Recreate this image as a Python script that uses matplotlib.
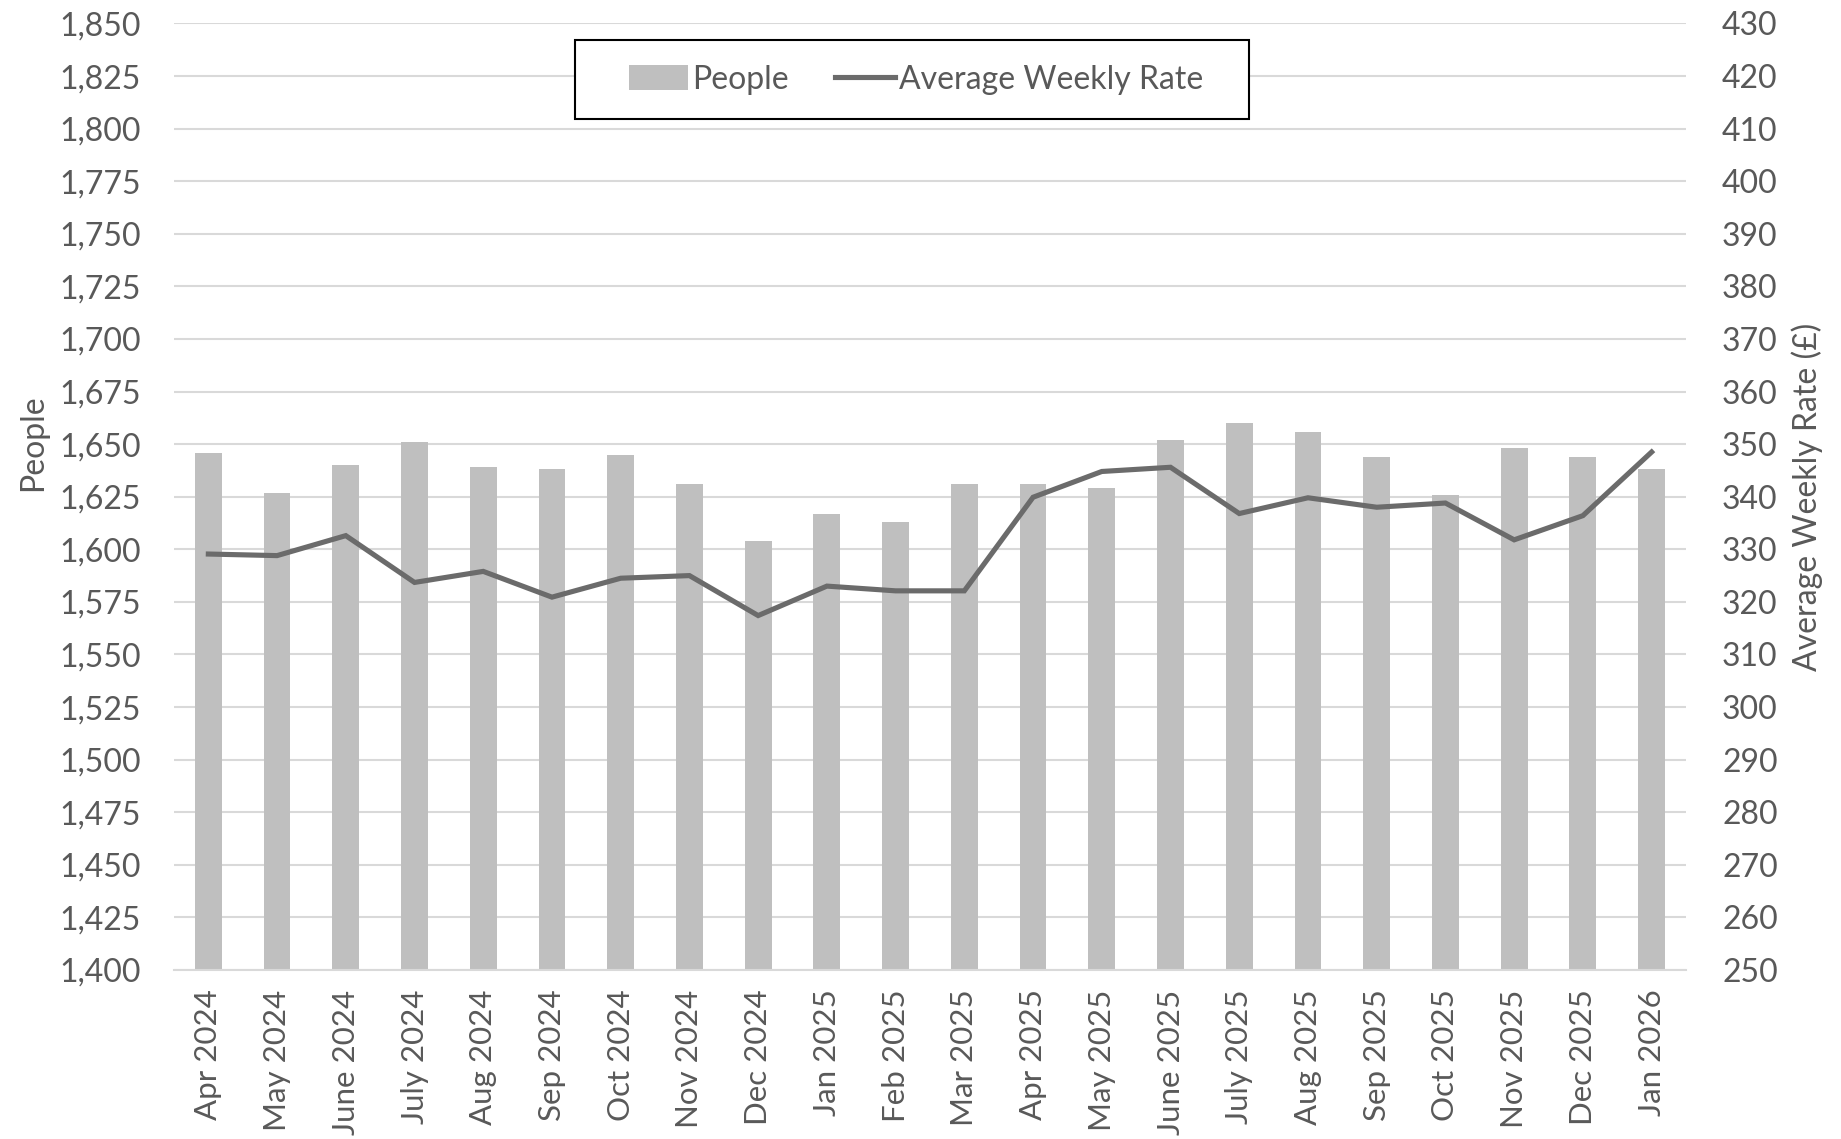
import matplotlib
matplotlib.use("Agg")
import matplotlib.pyplot as plt
from matplotlib.ticker import FuncFormatter, MultipleLocator
from matplotlib.patches import Rectangle

plt.rcParams['font.family'] = ['Lato', 'DejaVu Sans']

months = ["Apr 2024", "May 2024", "June 2024", "July 2024", "Aug 2024", "Sep 2024",
          "Oct 2024", "Nov 2024", "Dec 2024", "Jan 2025", "Feb 2025", "Mar 2025",
          "Apr 2025", "May 2025", "June 2025", "July 2025", "Aug 2025", "Sep 2025",
          "Oct 2025", "Nov 2025", "Dec 2025", "Jan 2026"]
people = [1646, 1627, 1640, 1651, 1639, 1638, 1645, 1631, 1604, 1617, 1613, 1631,
          1631, 1629, 1652, 1660, 1656, 1644, 1626, 1648, 1644, 1638]
rate = [329.1, 328.8, 332.6, 323.7, 325.8, 320.9, 324.5, 325.0, 317.4, 323.0, 322.1, 322.1,
        339.9, 344.8, 345.6, 336.8, 339.8, 338.0, 338.8, 331.8, 336.4, 348.5]

TEXT = '#595959'
GRID = '#D9D9D9'
BAR = '#BFBFBF'
LINE = '#6B6B6B'
FS = 23

fig = plt.figure(figsize=(18.41, 11.39), dpi=100)
ax = fig.add_axes([0.0945, 0.1484, 0.8213, 0.831])
x = list(range(len(months)))
bars = ax.bar(x, people, width=0.39, color=BAR, zorder=2, label='People')
ax.set_ylim(1400, 1850)
ax.set_xlim(-0.5, len(months) - 0.5)
ax.yaxis.set_major_locator(MultipleLocator(25))
ax.yaxis.set_major_formatter(FuncFormatter(lambda v, p: f"{int(v):,}"))
ax.grid(axis='y', color=GRID, lw=1.5, zorder=0)
ax.set_axisbelow(True)
for s in ['top', 'right', 'left']:
    ax.spines[s].set_visible(False)
ax.spines['bottom'].set_color(GRID)
ax.spines['bottom'].set_linewidth(1.5)
ax.set_xticks(x)
ax.set_xticklabels(months, rotation=90, fontsize=22.5, color=TEXT)
ax.tick_params(axis='x', length=0, pad=14)
ax.tick_params(axis='y', length=0, pad=24, labelsize=FS, labelcolor=TEXT)
ax.set_ylabel('People', fontsize=FS, color=TEXT, labelpad=12)
ax.yaxis.set_label_coords(-0.083, 0.557)

ax2 = ax.twinx()
line, = ax2.plot(x, rate, color=LINE, lw=3.7, zorder=3, label='Average Weekly Rate',
                 solid_joinstyle='miter')
ax2.set_ylim(250, 430)
ax2.yaxis.set_major_locator(MultipleLocator(10))
for s in ['top', 'right', 'left', 'bottom']:
    ax2.spines[s].set_visible(False)
ax2.tick_params(axis='y', length=0, pad=26, labelsize=FS, labelcolor=TEXT)
ax2.set_ylabel('Average Weekly Rate (£)', fontsize=FS, color=TEXT, labelpad=10)

fig.patches.append(Rectangle((575 / 1841, 1 - 119 / 1139), 674 / 1841, 79 / 1139,
                             transform=fig.transFigure, fill=True, facecolor='white',
                             edgecolor='black', lw=1.5, zorder=5))
leg = fig.legend([bars, line], ['People', 'Average Weekly Rate'], loc='center',
                 bbox_to_anchor=(0.4976, 0.930), ncol=2, fontsize=FS, frameon=False,
                 handlelength=1.85, handleheight=0.85, handletextpad=0.15,
                 columnspacing=1.45, borderpad=0.3, labelcolor=TEXT)
leg.set_zorder(6)

fig.savefig('out.png', dpi=100)
